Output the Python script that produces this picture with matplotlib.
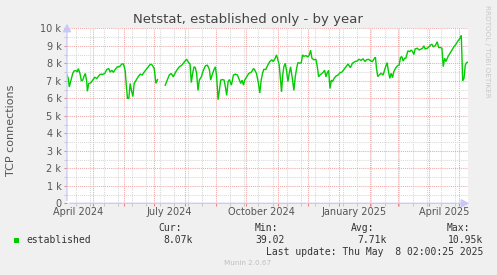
import numpy as np
import matplotlib
matplotlib.use("Agg")
import matplotlib.pyplot as plt
import matplotlib.dates as mdates
from matplotlib.patches import Rectangle

# ---------------- data ----------------
start_date = np.datetime64("2024-04-05T00:00")
end_date = np.datetime64("2025-05-10T00:00")

# days since start_date
day_offsets = [0, 1.3, 2.3, 4, 5.7, 7, 9, 10.3, 11.3, 13, 14.3, 15.7, 17, 18.3, 19.7, 20.3,
    21.7, 23.7, 25.7, 27.7, 29.7, 31, 33, 35.7, 37.7, 39.7, 41.7, 43, 44.7, 46.3, 48, 50.3,
    52.3, 54.7, 56.3, 58, 59, 60.3, 61.7, 63, 64.3, 65.7, 67, 69, 71, 73, 75, 77, 79, 81,
    83, 85, 87, 88.7, 90.3, 91, 98, 100, 102, 104, 106, 108, 110, 112, 114.7, 117.3, 119.3,
    121.3, 122.7, 124, 125.3, 126.7, 128, 129.3, 130.7, 132, 134, 136, 138, 140, 142, 143.3,
    144.7, 146.7, 148, 149.3, 150.7, 152, 153.3, 155.3, 156.7, 158, 159.3, 160.7, 162, 164,
    166, 168, 170, 172, 173.3, 174.7, 176, 177.3, 179.3, 181.3, 184, 186, 187, 189, 191,
    192.3, 193.7, 195, 196.3, 198.3, 200.3, 202.3, 204.3, 205.7, 207.7, 209, 210.3, 211.7,
    213, 214, 215, 216.3, 217.7, 219, 220.3, 221.7, 223, 225, 226.3, 227.7, 229, 230.3,
    232.3, 233.7, 235, 236.3, 238.3, 240.3, 241.7, 243, 244.3, 246.3, 248.3, 249.7, 251,
    252.3, 254.3, 255.7, 257, 258.3, 259.7, 261, 262.3, 263.7, 265, 266.3, 268.3, 270.3,
    272.3, 274.3, 276.3, 278.3, 280.3, 282.7, 284.7, 287.3, 289.3, 291.3, 293.3, 295.3,
    297.3, 298.7, 300.7, 302.7, 304.7, 306.7, 307.7, 308.7, 310, 311.3, 313.3, 315.3, 317.3,
    319.3, 320.7, 322, 323.3, 324.7, 326, 328, 330, 331.3, 332.7, 334, 335.3, 336.7, 338,
    340, 342, 343.3, 344.7, 346, 347.3, 349.3, 351.3, 353.3, 354.7, 356, 357.3, 359.3,
    361.3, 362.7, 364, 365.3, 367.3, 369.3, 370.7, 372.7, 374, 375.3, 376.7, 378, 380, 382,
    384, 386, 388, 390, 392, 393.3, 394.7, 396, 397.3, 398.7, 400]

established = [7330, 7130, 6650, 7040, 7420, 7560, 7580, 7500, 7700, 7400, 7000, 7040, 7270,
    7420, 6950, 6400, 6850, 6880, 7040, 7200, 7130, 7230, 7370, 7370, 7420, 7650, 7700, 7500,
    7600, 7480, 7650, 7800, 7800, 7960, 7960, 7600, 6850, 6000, 6000, 6850, 6450, 6100, 6850,
    7040, 7230, 7380, 7330, 7500, 7650, 7800, 7940, 7900, 7700, 6850, 7070, np.nan, 6750,
    7040, 7330, 7420, 7230, 7460, 7650, 7800, 7900, 8100, 8230, 8040, 7960, 6900, 7420, 7800,
    7750, 7420, 6450, 7040, 7230, 7600, 7850, 7900, 7650, 7040, 7330, 7650, 7800, 7230, 5920,
    6450, 7040, 7070, 7040, 6650, 6170, 6960, 7070, 6750, 7330, 7380, 7330, 7040, 6850, 7040,
    6750, 7040, 7230, 7420, 7500, 7700, 7650, 7420, 6850, 6300, 7040, 7420, 7650, 7650, 7900,
    8100, 8200, 8100, 8290, 8480, 8200, 7900, 7040, 6370, 7230, 7800, 8000, 7580, 6960, 7420,
    7800, 7040, 6450, 7230, 7700, 8040, 8000, 8040, 8480, 8400, 8440, 8360, 8480, 8750, 8290,
    8200, 8230, 7800, 7230, 7330, 7420, 7500, 7600, 7230, 7460, 7600, 6560, 7040, 6960, 7130,
    7270, 7330, 7460, 7500, 7650, 7800, 7960, 7750, 8000, 8100, 8130, 8230, 8170, 8250, 8100,
    8200, 8230, 8150, 8100, 8290, 8340, 7710, 7240, 7330, 7430, 7330, 7710, 8040, 7520, 7140,
    7430, 7180, 7520, 7750, 7870, 7900, 8340, 8380, 8130, 8290, 8290, 8710, 8670, 8760, 8670,
    8500, 8820, 8860, 8760, 8820, 8860, 9000, 8820, 8860, 8950, 9050, 9090, 8950, 9000, 9230,
    8900, 8900, 8860, 7810, 8290, 8100, 8380, 8570, 8760, 8950, 9090, 9280, 9430, 9600, 7000,
    7140, 7900, 8040, 8070]

y_ticks = [0, 1000, 2000, 3000, 4000, 5000, 6000, 7000, 8000, 9000, 10000]
y_tick_labels = ["0", "1 k", "2 k", "3 k", "4 k", "5 k", "6 k", "7 k", "8 k", "9 k", "10 k"]
x_label_dates = ["2024-04-16", "2024-07-16", "2024-10-16", "2025-01-16", "2025-04-16"]
x_labels = ["April 2024", "July 2024", "October 2024", "January 2025", "April 2025"]

legend_name = "established"
stat_headers = ["Cur:", "Min:", "Avg:", "Max:"]
stat_values = ["8.07k", "39.02", "7.71k", "10.95k"]
last_update = "Last update: Thu May  8 02:00:25 2025"

# ---------------- figure ----------------
W, H = 497, 275
fig = plt.figure(figsize=(W / 100, H / 100), dpi=100, facecolor="#F0F0F0")

x0, x1 = 67, 468
y0, y1 = 203.3, 28.3
ax = fig.add_axes([x0 / W, (H - y0) / H, (x1 - x0) / W, (y0 - y1) / H])
ax.set_facecolor("white")

dates = start_date + (np.array(day_offsets) * 24 * 60).astype("timedelta64[m]")
dates = dates.astype("datetime64[ms]").astype(object)
vals = np.array(established, dtype=float)

ax.set_xlim(start_date.astype(object), end_date.astype(object))
ax.set_ylim(0, 10000)

# grid
major_col = "#F0A8A8"
minor_col = "#D8D8D8"
month_starts = np.arange(np.datetime64("2024-05"), np.datetime64("2025-06"),
                         np.timedelta64(1, "M")).astype("datetime64[D]").astype(object)
minor_x = np.arange(np.datetime64("2024-04-14"), np.datetime64("2025-05-10"),
                    np.timedelta64(14, "D")).astype(object)
ax.set_xticks(month_starts)
ax.set_xticks(minor_x, minor=True)
ax.set_yticks(y_ticks)
ax.set_yticklabels(y_tick_labels)
ax.set_yticks(np.arange(500, 10000, 1000), minor=True)
ax.xaxis.set_ticklabels([])

dash = (0, (1, 1))
ax.grid(True, which="minor", color=minor_col, linestyle=dash, linewidth=0.75)
ax.grid(True, which="major", color=major_col, linestyle=dash, linewidth=0.75)
ax.set_axisbelow(True)

ax.tick_params(axis="both", which="major", length=2, width=0.75, color="#F08080",
               labelsize=7, labelcolor="#555555", pad=2)
ax.tick_params(axis="both", which="minor", length=2, width=0.75, color="#C8C8C8")

for s in ax.spines.values():
    s.set_visible(False)

ax.plot(dates, vals, color="#00CC00", linewidth=1.0, solid_joinstyle="miter")

# x labels
for d, lab in zip(x_label_dates, x_labels):
    ax.text(np.datetime64(d).astype(object), -0.05, lab, transform=ax.get_xaxis_transform(),
            ha="center", va="center", fontsize=7, color="#555555")

# axis lines with arrows
axis_col = "#C8C8F8"
fig.add_artist(matplotlib.patches.FancyArrowPatch(
    (x0 / W, (H - y0) / H), (472 / W, (H - y0) / H), transform=fig.transFigure,
    arrowstyle="-|>,head_length=3,head_width=1.6", color=axis_col, lw=0.9, mutation_scale=1.6))
fig.add_artist(matplotlib.patches.FancyArrowPatch(
    (x0 / W, (H - y0) / H), (x0 / W, (H - 21) / H), transform=fig.transFigure,
    arrowstyle="-|>,head_length=3,head_width=1.6", color=axis_col, lw=0.9, mutation_scale=1.6))

# title and labels
fig.text(248 / W, 1 - 19 / H, "Netstat, established only - by year", ha="center",
         va="center", fontsize=9.5, color="#444444")
fig.text(11 / W, 1 - 130 / H, "TCP connections", rotation=90, ha="center", va="center",
         fontsize=8, color="#555555")
fig.text(487 / W, 1 - 5 / H, "RRDTOOL / TOBI OETIKER", rotation=270, ha="center",
         va="top", fontsize=5.2, color="#C8C8C8")

# legend
mono = "DejaVu Sans Mono"
fig.add_artist(Rectangle((14 / W, 1 - 243 / H), 5 / W, 5 / H, transform=fig.transFigure,
                         facecolor="#00CC00", edgecolor="none"))
fig.text(26 / W, 1 - 240 / H, legend_name, family=mono, fontsize=7, color="#333333",
         ha="left", va="center")
hdr_right = [182, 278, 374, 470]
val_right = [193, 285, 387, 483]
for hx, vx, h, v in zip(hdr_right, val_right, stat_headers, stat_values):
    fig.text(hx / W, 1 - 228 / H, h, family=mono, fontsize=7, color="#333333",
             ha="right", va="center")
    fig.text(vx / W, 1 - 240 / H, v, family=mono, fontsize=7, color="#333333",
             ha="right", va="center")
fig.text(483 / W, 1 - 252 / H, last_update, family=mono, fontsize=7, color="#333333",
         ha="right", va="center")
fig.text(248 / W, 1 - 263 / H, "Munin 2.0.67", fontsize=5.2, color="#C0C0C0",
         ha="center", va="center")

fig.savefig("out.png", dpi=100, facecolor=fig.get_facecolor())
